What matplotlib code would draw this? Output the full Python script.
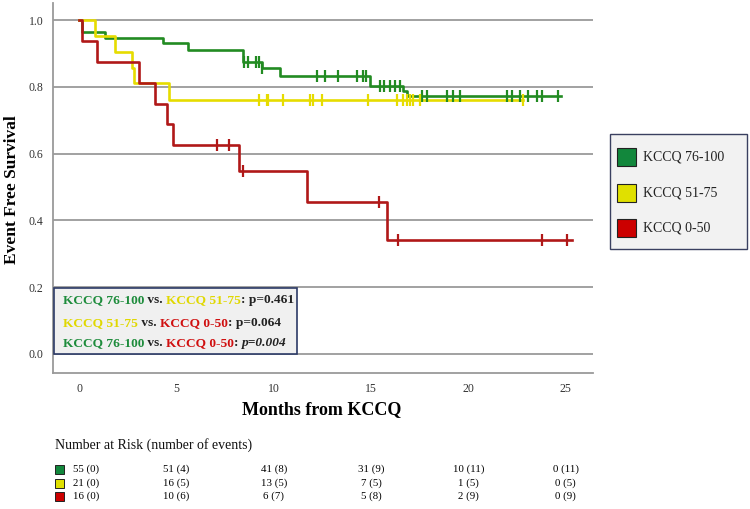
import numpy as np
import matplotlib
matplotlib.use("Agg")
import matplotlib.pyplot as plt
from matplotlib.patches import Rectangle

plt.rcParams['font.family'] = ['Liberation Serif', 'DejaVu Serif']

groups = ["KCCQ 76-100", "KCCQ 51-75", "KCCQ 0-50"]
line_colors = ["#228B22", "#E6DC00", "#B01818"]
patch_colors = ["#12873C", "#E0E000", "#CC0000"]
text_colors = ["#1E8C3C", "#E0D800", "#D01010"]

# step times / survival (event drops)
green_t = [0, 0.15, 1.34, 4.33, 5.6, 8.4, 9.4, 10.3, 14.95, 16.65, 16.85, 24.75]
green_s = [1.0, 0.963, 0.945, 0.93, 0.91, 0.875, 0.855, 0.832, 0.802, 0.786, 0.772, 0.772]
green_c = [8.48, 8.68, 9.10, 9.25, 9.40, 12.23, 12.64, 13.31, 14.29, 14.59, 14.75,
           15.47, 15.67, 15.98, 16.24, 16.50, 17.63, 17.88, 18.91, 19.22, 19.58,
           21.99, 22.25, 22.66, 23.07, 23.54, 23.79, 24.61]

yellow_t = [0, 0.82, 1.85, 2.7, 2.8, 4.6, 22.8]
yellow_s = [1.0, 0.952, 0.905, 0.857, 0.810, 0.762, 0.762]
yellow_c = [9.25, 9.66, 9.71, 10.48, 11.87, 12.02, 12.49, 14.85, 16.34, 16.65,
            16.86, 17.0, 17.16, 17.52, 22.8]

red_t = [0, 0.15, 0.9, 3.1, 3.9, 4.5, 4.8, 8.2, 11.7, 15.8, 25.3]
red_s = [1.0, 0.9375, 0.875, 0.8125, 0.75, 0.6875, 0.625, 0.547, 0.456, 0.342, 0.342]
red_c = [7.1, 7.7, 8.4, 15.4, 16.4, 23.8, 25.05]

risk_times = [0, 5, 10, 15, 20, 25]
risk_green = ["55 (0)", "51 (4)", "41 (8)", "31 (9)", "10 (11)", "0 (11)"]
risk_yellow = ["21 (0)", "16 (5)", "13 (5)", "7 (5)", "1 (5)", "0 (5)"]
risk_red = ["16 (0)", "10 (6)", "6 (7)", "5 (8)", "2 (9)", "0 (9)"]

xticks = [0, 5, 10, 15, 20, 25]
yticks = [0.0, 0.2, 0.4, 0.6, 0.8, 1.0]

fig = plt.figure(figsize=(7.5, 5.09), dpi=100)
ax = fig.add_axes([53/750, 1-373/509, 540/750, 370/509])
ax.set_xlim(-1.34, 26.4)
ax.set_ylim(-0.057, 1.051)

for y in yticks:
    ax.axhline(y, color="#9a9a9a", lw=1.3, zorder=1)

series = [(green_t, green_s, green_c), (yellow_t, yellow_s, yellow_c), (red_t, red_s, red_c)]
for (t, s, c), col in zip(series, line_colors):
    ax.step(t, s, where='post', color=col, lw=1.9, zorder=3)
    t_arr = np.array(t); s_arr = np.array(s)
    idx = np.searchsorted(t_arr, np.array(c), side='right') - 1
    ax.plot(c, s_arr[idx], linestyle='none', marker='|', ms=8, mew=1.6, color=col, zorder=4)

for side in ['top', 'right']:
    ax.spines[side].set_visible(False)
for side in ['left', 'bottom']:
    ax.spines[side].set_color("#9a9a9a")
    ax.spines[side].set_linewidth(1.3)
ax.set_xticks(xticks)
ax.set_yticks(yticks)
ax.set_yticklabels([f"{v:.1f}" for v in yticks])
ax.tick_params(length=0, labelsize=8.5, colors="#333333")
ax.tick_params(axis='y', pad=7)
ax.tick_params(axis='x', pad=7)

fig.text(12/750, 1-190/509, "Event Free Survival", rotation=90, fontsize=12.5,
         fontweight='bold', ha='center', va='center')
fig.text(322/750, 1-410/509, "Months from KCCQ", fontsize=13, fontweight='bold',
         ha='center', va='center')

# p-value box
ax_px = lambda x, y: (x/750, 1-y/509)
box = Rectangle(ax_px(54, 354), 243/750, 66/509, transform=fig.transFigure,
                facecolor="#f0f0f0", edgecolor="#2c3a66", lw=1.2, zorder=5)
fig.patches.append(box)

def colored_line(y, parts):
    x = 63/750
    renderer = fig.canvas.get_renderer()
    for txt, col, style in parts:
        t = fig.text(x, 1-y/509, txt, color=col, fontsize=9.6, fontweight='bold',
                     fontstyle=style, ha='left', va='center', zorder=6)
        bb = t.get_window_extent(renderer=renderer)
        x += bb.width / fig.bbox.width

colored_line(300, [("KCCQ 76-100", text_colors[0], 'normal'), (" vs. ", "#222222", 'normal'),
                   ("KCCQ 51-75", text_colors[1], 'normal'), (": p=0.461", "#222222", 'normal')])
colored_line(323, [("KCCQ 51-75", text_colors[1], 'normal'), (" vs. ", "#222222", 'normal'),
                   ("KCCQ 0-50", text_colors[2], 'normal'), (": p=0.064", "#222222", 'normal')])
colored_line(343, [("KCCQ 76-100", text_colors[0], 'normal'), (" vs. ", "#222222", 'normal'),
                   ("KCCQ 0-50", text_colors[2], 'normal'), (": ", "#222222", 'normal'),
                   ("p=0.004", "#222222", 'italic')])

# legend box
lbox = Rectangle(ax_px(610, 249), 137/750, 115/509, transform=fig.transFigure,
                 facecolor="#f2f2f2", edgecolor="#3a4060", lw=1.0)
fig.patches.append(lbox)
for i, (g, pc) in enumerate(zip(groups, patch_colors)):
    yc = [157, 193, 228][i]
    sq = Rectangle(ax_px(617, yc + 9), 19/750, 18/509, transform=fig.transFigure,
                   facecolor=pc, edgecolor="#222222", lw=0.8)
    fig.patches.append(sq)
    fig.text(643/750, 1-yc/509, g, fontsize=10, ha='left', va='center', color="#222222")

# number at risk table
fig.text(55/750, 1-445/509, "Number at Risk (number of events)", fontsize=10,
         ha='left', va='center', color="#111111")
rows = [risk_green, risk_yellow, risk_red]
row_y = [469, 483, 496]
for r, (vals, pc, yy) in enumerate(zip(rows, patch_colors, row_y)):
    sq = Rectangle(ax_px(55, yy + 4.5), 9/750, 9/509, transform=fig.transFigure,
                   facecolor=pc, edgecolor="#222222", lw=0.7)
    fig.patches.append(sq)
    for j, (tm, v) in enumerate(zip(risk_times, vals)):
        if j == 0:
            fig.text(73/750, 1-yy/509, v, fontsize=7.8, ha='left', va='center')
        else:
            xf = ax.transData.transform((tm, 0))[0] / fig.bbox.width
            fig.text(xf, 1-yy/509, v, fontsize=7.8, ha='center', va='center')

fig.savefig("out.png", dpi=100)
